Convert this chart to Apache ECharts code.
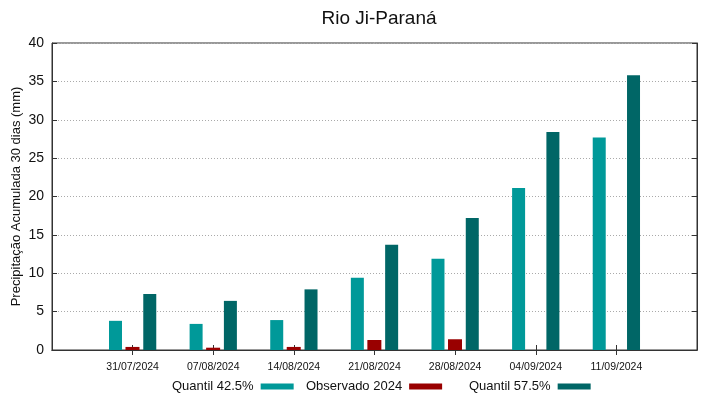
<!DOCTYPE html>
<html>
<head>
<meta charset="utf-8">
<script src="https://cdn.jsdelivr.net/npm/echarts@6/dist/echarts.min.js"></script>
<style>
  html, body { margin: 0; padding: 0; background: #fff; }
  #chart { width: 719px; height: 399px; }
</style>
</head>
<body>
<div id="chart"></div>
<script>
// datas da semana (posicoes 1..7 no eixo, as pontas ficam vazias)
var dates = ['', '31/07/2024', '07/08/2024', '14/08/2024', '21/08/2024', '28/08/2024', '04/09/2024', '11/09/2024', ''];
var q425 = [null, 3.8, 3.4, 3.9, 9.4, 11.9, 21.1, 27.7, null];
var obs2024 = [null, 0.4, 0.3, 0.4, 1.3, 1.4, null, null, null];
var q575 = [null, 7.3, 6.4, 7.9, 13.7, 17.2, 28.4, 35.8, null];
var seriesNames = ['Quantil 42.5%', 'Observado 2024', 'Quantil 57.5%'];

var font = 'Liberation Sans, Arial, sans-serif';
var chart = echarts.init(document.getElementById('chart'));

function innerTicks(i) { return i > 0 && i < dates.length - 1; }

// uma legenda por serie, pra acertar o espacamento
var legendLeft = [172, 306, 469];
var legends = seriesNames.map(function (n, i) {
  return {
    left: legendLeft[i], top: 380, padding: 0,
    align: 'right',
    icon: 'rect', itemWidth: 33, itemHeight: 6,
    textStyle: { fontFamily: font, fontSize: 13, color: '#111', padding: [0, 2, 0, 0] },
    data: [n]
  };
});

var option = {
  animation: false,
  backgroundColor: '#fff',
  title: {
    text: 'Rio Ji-Paraná',
    left: 374, top: 4, textAlign: 'center',
    textStyle: { fontFamily: font, fontSize: 19, fontWeight: 'normal', color: '#111' }
  },
  legend: legends,
  grid: {
    left: 52, right: 22, top: 43, bottom: 49,
    outerBoundsMode: 'none',
    show: true, borderColor: '#333', borderWidth: 1
  },
  xAxis: [{
    type: 'category', data: dates, boundaryGap: false,
    axisLine: { lineStyle: { color: '#333' } },
    axisTick: { inside: true, length: 5, interval: innerTicks, lineStyle: { color: '#333' } },
    axisLabel: { interval: 0, fontFamily: font, fontSize: 10.5, color: '#111', margin: 12 },
    splitLine: { show: false }
  }, {
    type: 'category', data: dates, boundaryGap: false, position: 'top',
    axisLine: { lineStyle: { color: '#333' } },
    axisTick: { inside: true, length: 5, interval: innerTicks, lineStyle: { color: '#333' } },
    axisLabel: { show: false }
  }],
  yAxis: [{
    type: 'value', min: 0, max: 40, interval: 5,
    name: 'Precipitação Acumulada 30 dias (mm)',
    nameLocation: 'middle', nameGap: 29, nameRotate: 90, nameMoveOverlap: false,
    nameTextStyle: { fontFamily: font, fontSize: 13, color: '#111' },
    axisLine: { show: true, lineStyle: { color: '#333' } },
    axisTick: { show: true, inside: true, length: 5, lineStyle: { color: '#333' } },
    axisLabel: { fontFamily: font, fontSize: 14, color: '#111', margin: 8 },
    splitLine: { show: true, lineStyle: { color: '#aaa', type: [1, 2], width: 1 } }
  }, {
    type: 'value', min: 0, max: 40, interval: 5, position: 'right',
    axisLine: { show: true, lineStyle: { color: '#333' } },
    axisTick: { show: true, inside: true, length: 5, lineStyle: { color: '#333' } },
    axisLabel: { show: false },
    splitLine: { show: false }
  }],
  series: [{
    name: seriesNames[0], type: 'bar', data: q425,
    barWidth: 13, barGap: '27%',
    itemStyle: { color: '#009999' }
  }, {
    name: seriesNames[1], type: 'bar', data: obs2024,
    barWidth: 14,
    itemStyle: { color: '#990000' }
  }, {
    name: seriesNames[2], type: 'bar', data: q575,
    barWidth: 13,
    itemStyle: { color: '#006666' }
  }]
};
chart.setOption(option);
</script>
</body>
</html>
